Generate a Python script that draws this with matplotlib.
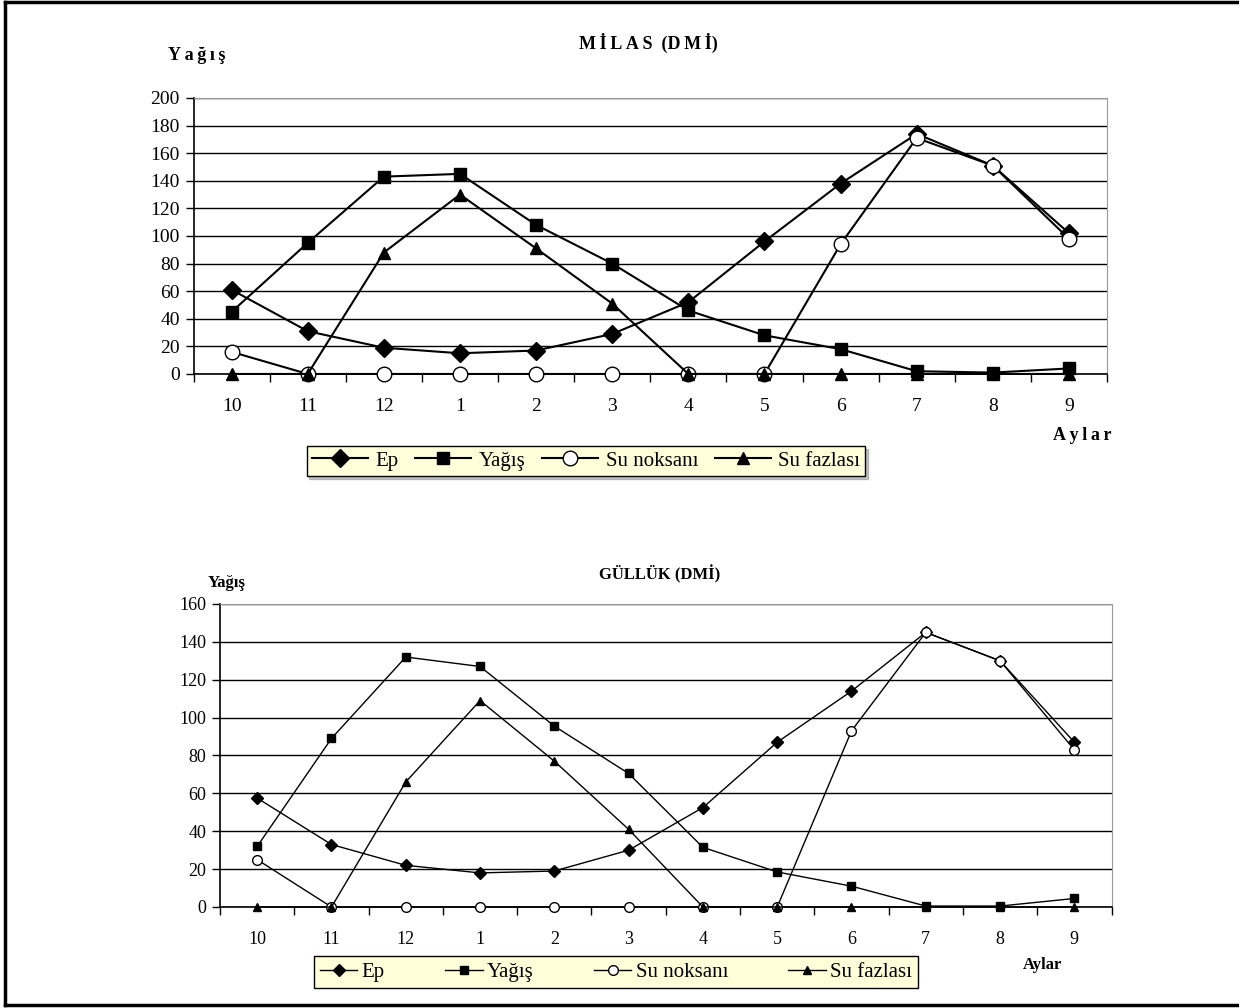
import matplotlib.pyplot as plt
from matplotlib.lines import Line2D

plt.rcParams["font.family"] = ["Liberation Serif", "DejaVu Serif"]

months = ["10", "11", "12", "1", "2", "3", "4", "5", "6", "7", "8", "9"]

milas_ep = [61, 31, 19, 15, 17, 29, 52, 96, 138, 174, 151, 102]
milas_yagis = [45, 95, 143, 145, 108, 80, 46, 28, 18, 2, 1, 4]
milas_noksan = [16, 0, 0, 0, 0, 0, 0, 0, 94, 171, 151, 98]
milas_fazla = [0, 0, 88, 130, 91, 51, 0, 0, 0, 0, 0, 0]

gulluk_ep = [57.5, 33, 22, 18, 19, 30, 52.5, 87, 114, 145, 130, 87]
gulluk_yagis = [32, 89, 132, 127, 95.5, 70.5, 31.5, 18.5, 11, 0.5, 0.5, 4.5]
gulluk_noksan = [25, 0, 0, 0, 0, 0, 0, 0, 93, 145, 130, 83]
gulluk_fazla = [0, 0, 66, 109, 77, 41, 0, 0, 0, 0, 0, 0]

labels = ["Ep", "Yağış", "Su noksanı", "Su fazlası"]
markers = ["D", "s", "o", "^"]
TS = "\u2009"  # thin space for letter-spaced labels


def spaced(s):
    return TS.join(s)


def draw_panel(ax, series, ymax, ystep, msizes, lw, fs):
    x = range(len(months))
    handles = []
    for vals, mk, ms, lab in zip(series, markers, msizes, labels):
        face = "white" if mk == "o" else "black"
        (h,) = ax.plot(x, vals, color="black", lw=lw, marker=mk, ms=ms,
                       mfc=face, mec="black", mew=1.0, label=lab,
                       zorder=3, clip_on=False)
        handles.append(h)
    ax.set_xlim(-0.5, len(months) - 0.5)
    ax.set_ylim(0, ymax)
    ax.set_yticks(range(0, ymax + 1, ystep))
    ax.set_xticks(list(x))
    ax.set_xticklabels(months)
    ax.set_xticks([i - 0.5 for i in range(len(months) + 1)], minor=True)
    ax.tick_params(axis="x", which="major", length=0, pad=17.5, labelsize=fs)
    ax.tick_params(axis="x", which="minor", length=6, direction="out", width=1)
    ax.tick_params(axis="y", length=6, direction="out", width=1, labelsize=fs, pad=4)
    ax.yaxis.grid(True, color="black", lw=1)
    ax.set_axisbelow(True)
    for s in ["top", "right"]:
        ax.spines[s].set_color("#999999")
    ax.spines["left"].set_linewidth(1.2)
    ax.spines["bottom"].set_linewidth(1.2)
    return handles


fig = plt.figure(figsize=(12.39, 10.08), dpi=100)

# top panel: MİLAS
ax1 = fig.add_axes([0.1562, 0.629, 0.7373, 0.2738])
h1 = draw_panel(ax1, [milas_ep, milas_yagis, milas_noksan, milas_fazla],
                200, 20, [9.5, 9, 10.5, 9], 1.5, 14)
fig.text(648 / 1239, 1 - 43 / 1008, spaced("MİLAS") + "  (" + spaced("DMİ") + ")",
         ha="center", va="center", fontsize=13, fontweight="bold")
fig.text(197 / 1239, 1 - 55 / 1008, spaced("Yağış"), ha="center", va="center",
         fontsize=13, fontweight="bold")
fig.text(1082 / 1239, 1 - 435 / 1008, spaced("Aylar"), ha="center", va="center",
         fontsize=13, fontweight="bold")
fig.legend(handles=h1, labels=labels, loc="center", ncol=4,
           bbox_to_anchor=(586 / 1239, 1 - 461 / 1008), fontsize=15,
           frameon=True, fancybox=False, edgecolor="black",
           facecolor="#FFFFD9", framealpha=1, handlelength=2.7,
           columnspacing=0.8, handletextpad=0.35, borderpad=0.25,
           shadow={"color": "#888888", "ox": 2, "oy": -2})

# bottom panel: GÜLLÜK
ax2 = fig.add_axes([0.1776, 0.1002, 0.7195, 0.3006])
h2 = draw_panel(ax2, [gulluk_ep, gulluk_yagis, gulluk_noksan, gulluk_fazla],
                160, 20, [6, 6, 7, 6], 1.0, 13)
fig.text(660 / 1239, 1 - 574 / 1008, "GÜLLÜK (DMİ)", ha="center", va="center",
         fontsize=12, fontweight="bold")
fig.text(227 / 1239, 1 - 583 / 1008, "Yağış", ha="center", va="center",
         fontsize=12, fontweight="bold")
fig.text(1042 / 1239, 1 - 965 / 1008, "Aylar", ha="center", va="center",
         fontsize=12, fontweight="bold")
fig.legend(handles=h2, labels=labels, loc="center", ncol=4,
           bbox_to_anchor=(616 / 1239, 1 - 972 / 1008), fontsize=15,
           frameon=True, fancybox=False, edgecolor="black",
           facecolor="#FFFFD9", framealpha=1, handlelength=1.8,
           columnspacing=2.9, handletextpad=0.2, borderpad=0.3)

# outer frame
for xs, ys in [([5 / 1239, 5 / 1239], [1 - 2 / 1008, 1 - 1005 / 1008]),
               ([5 / 1239, 1.0], [1 - 2 / 1008, 1 - 2 / 1008]),
               ([5 / 1239, 1.0], [1 - 1005 / 1008, 1 - 1005 / 1008])]:
    fig.add_artist(Line2D(xs, ys, color="black", lw=2.5, transform=fig.transFigure))

fig.savefig("out.png", dpi=100)
